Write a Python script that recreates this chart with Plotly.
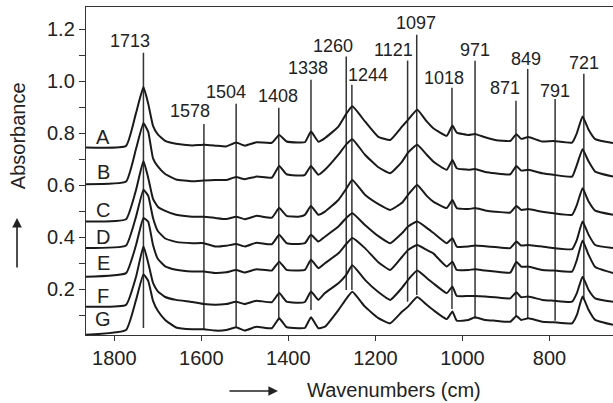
import plotly.graph_objects as go

# ---------------- data ----------------
wavenumbers = [1865, 1773, 1750, 1733, 1722, 1711, 1700, 1683, 1658, 1621, 1594, 1568, 1543, 1520,
               1500, 1473, 1438, 1421, 1404, 1377, 1362, 1348, 1331, 1316, 1285, 1267, 1253, 1224,
               1194, 1166, 1139, 1125, 1104, 1082, 1067, 1036, 1023, 1013, 986, 971, 948, 925, 890,
               876, 865, 849, 817, 791, 748, 737, 724, 710, 695, 654]

spec_A = [0.745, 0.751, 0.878, 0.977, 0.913, 0.828, 0.795, 0.770, 0.759, 0.753, 0.755, 0.752, 0.749, 0.764,
          0.752, 0.765, 0.763, 0.793, 0.768, 0.764, 0.765, 0.806, 0.767, 0.781, 0.825, 0.874, 0.903, 0.845,
          0.787, 0.774, 0.825, 0.851, 0.890, 0.845, 0.819, 0.790, 0.829, 0.802, 0.793, 0.797, 0.784, 0.774,
          0.770, 0.796, 0.778, 0.785, 0.768, 0.770, 0.764, 0.800, 0.864, 0.813, 0.777, 0.762]
spec_B = [0.604, 0.614, 0.740, 0.838, 0.805, 0.703, 0.672, 0.643, 0.622, 0.615, 0.618, 0.620, 0.620, 0.631,
          0.623, 0.633, 0.629, 0.674, 0.642, 0.637, 0.640, 0.674, 0.640, 0.659, 0.717, 0.757, 0.777, 0.717,
          0.670, 0.646, 0.690, 0.725, 0.755, 0.717, 0.691, 0.659, 0.697, 0.665, 0.659, 0.662, 0.651, 0.646,
          0.642, 0.674, 0.656, 0.659, 0.646, 0.640, 0.633, 0.678, 0.738, 0.691, 0.652, 0.633]
spec_C = [0.460, 0.469, 0.582, 0.693, 0.628, 0.547, 0.517, 0.501, 0.486, 0.479, 0.479, 0.474, 0.470, 0.479,
          0.469, 0.482, 0.475, 0.512, 0.482, 0.479, 0.486, 0.520, 0.486, 0.498, 0.543, 0.586, 0.620, 0.563,
          0.528, 0.505, 0.532, 0.563, 0.601, 0.559, 0.537, 0.512, 0.543, 0.512, 0.508, 0.512, 0.503, 0.498,
          0.495, 0.520, 0.505, 0.508, 0.498, 0.492, 0.486, 0.524, 0.588, 0.537, 0.502, 0.486]
spec_D = [0.358, 0.368, 0.479, 0.582, 0.559, 0.474, 0.424, 0.395, 0.382, 0.377, 0.377, 0.364, 0.367, 0.374,
          0.364, 0.379, 0.373, 0.409, 0.377, 0.374, 0.377, 0.409, 0.383, 0.402, 0.441, 0.474, 0.492, 0.447,
          0.405, 0.377, 0.415, 0.441, 0.460, 0.436, 0.417, 0.377, 0.396, 0.364, 0.364, 0.368, 0.365, 0.362,
          0.358, 0.383, 0.368, 0.370, 0.364, 0.358, 0.354, 0.390, 0.460, 0.409, 0.370, 0.358]
spec_E = [0.248, 0.262, 0.370, 0.474, 0.459, 0.370, 0.317, 0.288, 0.275, 0.268, 0.268, 0.262, 0.265, 0.274,
          0.264, 0.277, 0.272, 0.306, 0.274, 0.272, 0.274, 0.313, 0.281, 0.300, 0.338, 0.374, 0.397, 0.358,
          0.305, 0.274, 0.324, 0.351, 0.370, 0.351, 0.338, 0.287, 0.306, 0.274, 0.274, 0.277, 0.272, 0.268,
          0.264, 0.306, 0.287, 0.287, 0.274, 0.272, 0.268, 0.313, 0.387, 0.332, 0.285, 0.262]
spec_F = [0.133, 0.140, 0.248, 0.365, 0.301, 0.224, 0.192, 0.170, 0.159, 0.151, 0.143, 0.140, 0.143, 0.152,
          0.143, 0.156, 0.150, 0.185, 0.152, 0.148, 0.151, 0.191, 0.159, 0.185, 0.223, 0.255, 0.292, 0.236,
          0.190, 0.159, 0.205, 0.236, 0.272, 0.243, 0.223, 0.185, 0.210, 0.174, 0.174, 0.174, 0.172, 0.169,
          0.165, 0.188, 0.169, 0.172, 0.159, 0.156, 0.152, 0.185, 0.248, 0.197, 0.165, 0.152]
spec_G = [0.025, 0.043, 0.159, 0.257, 0.232, 0.155, 0.117, 0.082, 0.053, 0.046, 0.046, 0.041, 0.043, 0.054,
          0.041, 0.056, 0.050, 0.088, 0.054, 0.050, 0.051, 0.092, 0.050, 0.056, 0.120, 0.163, 0.190, 0.133,
          0.090, 0.069, 0.113, 0.133, 0.170, 0.140, 0.120, 0.085, 0.114, 0.079, 0.082, 0.092, 0.082, 0.079,
          0.075, 0.097, 0.082, 0.088, 0.075, 0.073, 0.069, 0.101, 0.172, 0.120, 0.082, 0.063]

series_names = ["A", "B", "C", "D", "E", "F", "G"]
series_values = [spec_A, spec_B, spec_C, spec_D, spec_E, spec_F, spec_G]
series_label_y = [0.785, 0.652, 0.505, 0.402, 0.300, 0.174, 0.085]

peak_labels = ["1713", "1578", "1504", "1408", "1338", "1260", "1244", "1121", "1097",
               "1018", "971", "871", "849", "791", "721"]
peak_line_x = [1733, 1594, 1520, 1422, 1348, 1267, 1254, 1126, 1105, 1024, 971, 877, 850, 787, 721]
peak_line_top = [1.109, 0.835, 0.913, 0.898, 1.005, 1.095, 0.986, 1.079, 1.178, 0.975, 1.078, 0.925,
                 1.047, 0.931, 1.028]
peak_line_bottom = [0.051, 0.043, 0.051, 0.082, 0.120, 0.197, 0.197, 0.152, 0.178, 0.124, 0.086, 0.095,
                    0.086, 0.079, 0.159]
peak_label_x = [1764, 1626, 1544, 1424, 1355, 1297, 1217, 1158, 1106, 1042, 972, 902, 855, 788, 720]
peak_label_y = [1.156, 0.886, 0.960, 0.941, 1.052, 1.137, 1.024, 1.120, 1.224, 1.013, 1.120, 0.972,
                1.087, 0.964, 1.069]

x_ticks = [1800, 1600, 1400, 1200, 1000, 800]
y_ticks = [0.1, 0.2, 0.3, 0.4, 0.5, 0.6, 0.7, 0.8, 0.9, 1.0, 1.1, 1.2]
y_ticktext = ["", "0.2", "", "0.4", "", "0.6", "", "0.8", "", "1.0", "", "1.2"]

# ---------------- figure ----------------
FONT = "Arial, 'Liberation Sans', Helvetica, sans-serif"
INK = "#222222"

fig = go.Figure()

# vertical marker lines
for xv, yb, yt in zip(peak_line_x, peak_line_bottom, peak_line_top):
    fig.add_trace(go.Scatter(x=[xv, xv], y=[yb, yt], mode="lines",
                             line=dict(color="#333333", width=1.5),
                             showlegend=False, hoverinfo="skip"))

# spectra
for name, vals in zip(series_names, series_values):
    fig.add_trace(go.Scatter(x=wavenumbers, y=vals, mode="lines", name=name,
                             line=dict(color="#1a1a1a", width=2.0, shape="spline", smoothing=0.4),
                             showlegend=False))

annotations = []
for txt, xv, yv in zip(peak_labels, peak_label_x, peak_label_y):
    annotations.append(dict(x=xv, y=yv, xref="x", yref="y", text=txt, showarrow=False,
                            font=dict(family=FONT, size=18, color=INK),
                            xanchor="center", yanchor="middle"))
for name, yv in zip(series_names, series_label_y):
    annotations.append(dict(x=1825, y=yv, xref="x", yref="y", text=name, showarrow=False,
                            font=dict(family=FONT, size=20, color=INK),
                            xanchor="center", yanchor="middle"))

# axis titles
annotations.append(dict(x=-0.1285, y=0.607, xref="paper", yref="paper", text="Absorbance",
                        textangle=-90, showarrow=False, font=dict(family=FONT, size=20, color=INK),
                        xanchor="center", yanchor="middle"))
annotations.append(dict(x=0.5845, y=-0.1677, xref="paper", yref="paper", text="Wavenumbers (cm)",
                        showarrow=False, font=dict(family=FONT, size=20, color=INK),
                        xanchor="center", yanchor="middle"))
# arrows
annotations.append(dict(x=-0.1309, y=0.3567, xref="paper", yref="paper", text="",
                        showarrow=True, ax=0, ay=51, axref="pixel", ayref="pixel",
                        arrowhead=2, arrowsize=1.2, arrowwidth=1.6, arrowcolor=INK))
annotations.append(dict(x=0.3643, y=-0.1707, xref="paper", yref="paper", text="",
                        showarrow=True, ax=-50, ay=0, axref="pixel", ayref="pixel",
                        arrowhead=2, arrowsize=1.2, arrowwidth=1.6, arrowcolor=INK))

fig.update_layout(
    width=613, height=403,
    margin=dict(l=86, r=0, t=7, b=68),
    paper_bgcolor="white", plot_bgcolor="white",
    font=dict(family=FONT, size=20, color=INK),
    annotations=annotations,
    showlegend=False,
)
fig.update_xaxes(range=[1865, 654], tickvals=x_ticks, ticks="outside", ticklen=5, tickwidth=1.4,
                 tickcolor="#333333", showline=True, linecolor="#333333", linewidth=1.4,
                 mirror=True, showgrid=False, zeroline=False,
                 tickfont=dict(family=FONT, size=20, color=INK))
fig.update_yaxes(range=[0.024, 1.285], tickvals=y_ticks, ticktext=y_ticktext, ticks="outside",
                 ticklen=6, tickwidth=1.4, tickcolor="#333333", showline=True,
                 linecolor="#333333", linewidth=1.4, showgrid=False, zeroline=False,
                 tickfont=dict(family=FONT, size=20, color=INK))

fig.write_html("out.html", config={"displayModeBar": False},
               post_script="document.body.style.margin='0';document.body.style.overflow='hidden';")
